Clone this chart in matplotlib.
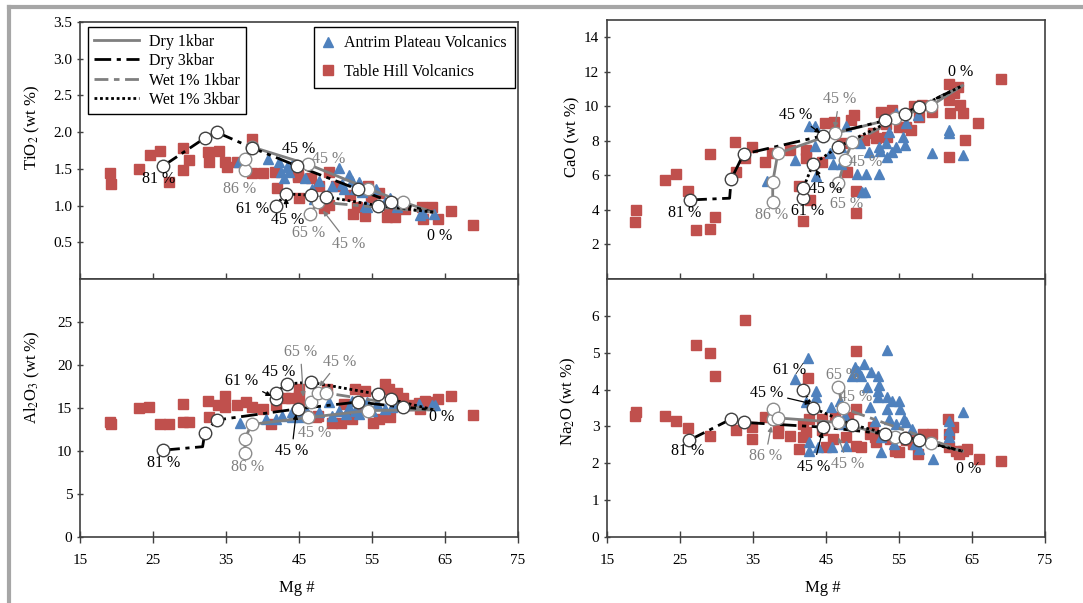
import matplotlib
matplotlib.use("Agg")
import matplotlib.pyplot as plt
from matplotlib.lines import Line2D

plt.rcParams['font.family'] = ['Liberation Serif', 'DejaVu Serif']
plt.rcParams['mathtext.fontset'] = 'stix'

W, H = 1083, 603
RED = '#C0504D'
BLUE = '#4F81BD'
GRAY = '#7F7F7F'
BLACK = '#000000'

# ---- whole-rock data (Mg#, oxide wt %) ----
# TiO2
ti_th_mg = [19.1, 19.3, 23.1, 24.6, 26.0, 27.2, 29.1, 29.1, 29.9, 32.6, 32.7, 34.1, 34.9, 35.1, 36.5,
            38.6, 38.5, 40.1, 41.7, 42.0, 44.8, 44.9, 45.0, 46.7, 47.7, 48.4, 49.1, 49.1, 50.0, 52.0,
            52.4, 52.9, 54.1, 54.5, 54.9, 55.9, 57.0, 57.3, 58.2, 59.5, 61.8, 62.0, 63.2, 64.1, 65.8, 68.9]
ti_th = [1.45, 1.29, 1.50, 1.69, 1.74, 1.32, 1.78, 1.48, 1.62, 1.73, 1.59, 1.75, 1.60, 1.53, 1.59,
         1.91, 1.45, 1.44, 1.46, 1.24, 1.42, 1.39, 1.10, 1.37, 1.26, 0.97, 1.01, 1.46, 1.27, 1.14,
         0.88, 0.98, 0.86, 1.26, 1.11, 1.17, 0.85, 0.89, 0.85, 0.96, 0.98, 0.82, 0.98, 0.82, 0.92, 0.74]
ti_ap_mg = [36.8, 40.8, 42.2, 42.5, 43.0, 43.3, 43.6, 44.1, 45.8, 46.8, 47.0, 47.8, 49.5, 50.5, 50.9,
            51.1, 51.8, 52.3, 52.7, 53.2, 53.6, 54.1, 54.3, 55.5, 56.8, 57.5, 58.4, 61.6, 62.0, 63.5]
ti_ap = [1.59, 1.64, 1.60, 1.46, 1.37, 1.53, 1.46, 1.55, 1.37, 1.23, 1.09, 1.34, 1.27, 1.51, 1.30,
         1.23, 1.41, 1.34, 1.23, 1.32, 1.18, 1.00, 0.98, 1.23, 1.05, 1.10, 0.98, 0.87, 0.90, 0.88]

# CaO
ca_th_mg = [19.0, 18.9, 22.9, 24.4, 26.1, 27.2, 29.1, 29.1, 29.8, 32.6, 32.7, 33.9, 34.9, 36.6, 37.6,
            40.1, 41.3, 41.9, 42.8, 42.2, 42.2, 44.5, 44.9, 46.1, 47.2, 48.4, 48.9, 49.1, 49.1, 47.9,
            50.2, 51.4, 51.8, 52.5, 53.2, 53.4, 54.1, 55.0, 56.0, 56.6, 57.1, 57.8, 58.2, 59.5, 61.8,
            61.8, 62.0, 61.8, 63.1, 63.4, 63.8, 62.6, 65.8, 64.1, 69.0]
ca_th = [3.99, 3.33, 5.71, 6.10, 5.08, 2.82, 7.23, 2.92, 3.60, 7.95, 6.20, 6.98, 7.66, 6.78, 7.27,
         7.50, 5.36, 3.37, 4.58, 7.50, 7.00, 6.78, 9.02, 9.12, 7.85, 9.20, 9.50, 5.12, 3.85, 6.20,
         8.05, 8.44, 8.15, 9.70, 9.00, 8.24, 9.80, 8.83, 8.83, 8.63, 10.0, 9.40, 10.1, 9.70, 11.27,
         10.39, 9.60, 7.07, 11.13, 10.1, 9.60, 10.8, 9.06, 8.05, 11.6]
ca_ap_mg = [36.9, 40.7, 42.7, 43.5, 43.5, 43.6, 45.6, 45.9, 47.0, 47.7, 49.3, 49.6, 50.5, 49.9, 50.4,
            50.9, 52.3, 52.3, 53.2, 53.4, 54.1, 54.6, 54.6, 55.5, 55.8, 56.0, 57.6, 59.5, 61.8, 61.8,
            63.8, 53.6, 52.4, 47.0]
ca_ap = [5.67, 6.90, 8.87, 7.70, 8.87, 5.94, 7.30, 6.68, 6.68, 8.87, 6.10, 7.85, 6.10, 5.02, 5.02,
         7.37, 6.10, 7.66, 7.85, 7.07, 7.37, 7.66, 9.60, 8.24, 7.76, 9.02, 9.50, 7.27, 8.63, 8.44,
         7.17, 8.54, 7.40, 7.66]

# Al2O3
al_th_mg = [19.1, 19.2, 23.1, 24.5, 26.0, 27.2, 29.1, 29.1, 29.9, 32.6, 32.7, 33.9, 34.9, 34.9, 36.5,
            37.7, 38.5, 40.0, 41.1, 41.8, 43.1, 43.9, 45.0, 45.0, 45.0, 45.9, 47.3, 47.6, 48.9, 49.5,
            50.7, 51.1, 52.3, 52.7, 53.4, 54.1, 55.2, 55.9, 56.8, 57.3, 57.5, 58.4, 59.3, 60.5, 61.4,
            62.2, 63.2, 64.1, 65.8, 68.9, 61.6]
al_th = [13.4, 13.1, 15.0, 15.1, 13.1, 13.1, 15.5, 13.4, 13.4, 15.85, 14.0, 15.3, 16.4, 15.1, 15.3,
         15.65, 15.1, 14.9, 13.1, 15.3, 16.2, 16.2, 17.2, 16.4, 15.5, 14.1, 13.9, 14.1, 17.2, 13.3,
         13.3, 15.5, 13.7, 17.2, 14.9, 17.0, 13.3, 13.7, 17.8, 17.2, 13.9, 16.8, 16.2, 15.3, 15.6,
         15.85, 15.65, 16.0, 16.4, 14.2, 14.9]
al_ap_mg = [36.9, 40.5, 41.8, 42.7, 44.1, 45.2, 46.1, 47.7, 49.1, 49.5, 50.5, 51.4, 51.8, 52.3, 52.7,
            53.2, 53.9, 54.3, 55.0, 55.7, 56.8, 57.7, 61.4, 63.2, 63.6, 44.1, 58.6]
al_ap = [13.3, 13.7, 13.7, 14.1, 13.9, 13.9, 14.5, 14.5, 15.65, 14.1, 14.7, 14.3, 15.1, 15.85, 14.7,
         14.3, 14.9, 15.65, 14.7, 15.5, 14.9, 15.1, 15.5, 15.3, 15.3, 14.5, 15.3]

# Na2O
na_th_mg = [19.0, 18.9, 22.9, 24.4, 26.1, 27.2, 29.1, 29.1, 29.8, 32.7, 33.9, 34.9, 34.9, 36.6, 38.4,
            38.4, 40.1, 41.3, 41.9, 42.2, 42.6, 41.9, 42.7, 44.5, 45.0, 46.0, 46.3, 47.7, 48.0, 49.1,
            49.1, 49.1, 49.8, 51.0, 51.7, 51.9, 53.7, 54.4, 55.0, 56.0, 56.4, 56.9, 57.6, 58.3, 58.7,
            59.5, 61.7, 61.9, 62.4, 62.8, 63.2, 63.8, 64.3, 65.9, 69.0, 61.9, 51.4, 44.5]
na_th = [3.38, 3.27, 3.27, 3.14, 2.95, 5.21, 5.00, 2.75, 4.38, 2.89, 5.89, 2.66, 2.98, 3.25, 2.81,
         3.00, 2.75, 2.39, 3.07, 2.84, 4.31, 2.70, 3.20, 3.20, 2.43, 2.66, 3.25, 2.70, 3.25, 5.05,
         3.47, 2.48, 2.43, 2.80, 2.70, 2.57, 2.66, 2.34, 2.30, 2.62, 2.70, 2.53, 2.26, 2.80, 2.70,
         2.80, 3.20, 2.43, 2.98, 2.34, 2.26, 2.34, 2.39, 2.12, 2.07, 2.80, 2.98, 2.89]
na_ap_mg = [40.8, 42.6, 42.2, 42.7, 43.6, 43.6, 42.7, 43.9, 45.7, 45.8, 46.9, 47.6, 47.7, 48.5, 49.0,
            49.4, 49.8, 50.2, 50.6, 51.0, 51.2, 51.7, 52.1, 52.1, 52.1, 52.3, 52.6, 53.3, 53.3, 53.3,
            53.6, 54.1, 54.3, 54.6, 55.0, 55.2, 55.7, 55.9, 56.8, 57.2, 57.8, 59.6, 61.8, 61.8, 61.8,
            63.8, 52.6, 47.3]
na_ap = [4.29, 4.87, 3.65, 2.57, 3.97, 3.79, 2.34, 2.43, 3.52, 2.43, 3.70, 3.29, 2.48, 4.38, 4.60,
         4.51, 4.38, 4.69, 4.06, 3.52, 4.47, 3.16, 4.38, 3.97, 3.79, 4.13, 2.70, 5.07, 3.79, 3.47,
         3.20, 3.70, 2.52, 3.07, 3.70, 3.47, 3.20, 3.11, 2.93, 2.52, 2.39, 2.12, 3.16, 2.89, 2.72,
         3.38, 2.30, 3.07]

# ---- fractional crystallisation models (Mg#, oxide) ----
ti_dry1 = ([37.6, 37.6, 38.5, 46.3, 54.5, 59.2, 63.4], [1.48, 1.64, 1.80, 1.56, 1.23, 1.05, 0.91])
ti_dry3 = ([26.4, 32.1, 33.7, 38.5, 44.7, 53.1, 57.6, 63.4], [1.54, 1.92, 2.00, 1.79, 1.54, 1.22, 1.05, 0.91])
ti_wet1 = ([46.5, 47.6, 63.4], [0.88, 1.05, 0.91])
ti_wet3 = ([41.8, 43.2, 46.7, 48.7, 55.8, 63.4], [1.00, 1.16, 1.14, 1.12, 1.00, 0.91])

ca_dry1 = ([37.7, 37.7, 38.4, 46.2, 54.5, 59.4, 63.7], [4.48, 5.61, 7.27, 8.44, 9.32, 10.04, 11.2])
ca_dry3 = ([26.4, 31.8, 32.0, 33.7, 44.6, 53.1, 57.7, 63.7], [4.58, 4.68, 5.77, 7.23, 8.30, 9.18, 9.96, 11.2])
ca_wet1 = ([46.7, 47.6, 48.6, 63.7], [5.55, 6.92, 7.91, 11.2])
ca_wet3 = ([41.9, 41.9, 43.2, 46.7, 55.8, 63.7], [4.67, 5.28, 6.64, 7.66, 9.55, 11.2])

al_dry1 = ([37.6, 37.6, 38.5, 46.3, 54.5, 63.4], [9.74, 11.45, 13.1, 13.9, 14.7, 14.8])
al_dry3 = ([26.4, 31.8, 32.1, 33.7, 44.8, 53.1, 59.2, 63.4], [10.1, 10.5, 12.15, 13.6, 14.9, 15.7, 15.1, 14.8])
al_wet1 = ([46.6, 47.6, 48.7, 63.4], [15.65, 16.75, 16.75, 14.8])
al_wet3 = ([41.8, 41.8, 43.3, 46.6, 55.8, 57.6, 63.4], [16.1, 16.75, 17.8, 18.0, 16.6, 16.0, 14.8])

na_dry1 = ([37.7, 37.7, 38.4, 46.7, 54.5, 59.4, 63.7], [3.20, 3.47, 3.23, 3.11, 2.70, 2.54, 2.33])
na_dry3 = ([26.3, 32.0, 33.7, 44.6, 53.1, 57.7, 63.7], [2.63, 3.20, 3.11, 2.98, 2.80, 2.64, 2.33])
na_wet1 = ([46.7, 47.3, 63.7], [4.06, 3.50, 2.33])
na_wet3 = ([41.9, 43.2, 48.5, 55.8, 63.7], [3.99, 3.50, 3.05, 2.69, 2.33])

# ---- % crystallised labels: text, x, y, colour, arrow target ----
ti_labels = [('81 %', 25.8, 1.36, BLACK, None), ('86 %', 36.9, 1.23, GRAY, None),
             ('45 %', 45.0, 1.77, BLACK, None), ('45 %', 49.1, 1.64, GRAY, None),
             ('61 %', 38.7, 0.95, BLACK, None), ('45 %', 43.4, 0.81, BLACK, (43.2, 1.10)),
             ('65 %', 46.3, 0.63, GRAY, None), ('45 %', 51.8, 0.48, GRAY, (48.3, 0.93)),
             ('0 %', 64.3, 0.59, BLACK, None)]
ca_labels = [('0 %', 63.4, 12.0, BLACK, None), ('45 %', 46.8, 10.4, GRAY, (46.2, 8.75)),
             ('45 %', 40.8, 9.5, BLACK, (44.2, 8.45)), ('45 %', 50.4, 6.8, GRAY, None),
             ('45 %', 45.0, 5.2, BLACK, (43.6, 6.35)), ('65 %', 47.8, 4.34, GRAY, None),
             ('81 %', 25.7, 3.81, BLACK, None), ('86 %', 37.5, 3.7, GRAY, None),
             ('61 %', 42.5, 3.95, BLACK, None)]
al_labels = [('65 %', 45.2, 21.5, GRAY, (45.6, 16.3)), ('45 %', 50.5, 20.4, GRAY, (47.8, 17.5)),
             ('45 %', 42.2, 19.2, BLACK, None), ('61 %', 37.2, 18.1, BLACK, (41.2, 16.4)),
             ('45 %', 47.2, 12.1, GRAY, None), ('45 %', 44.0, 10.0, BLACK, (44.6, 14.3)),
             ('81 %', 26.4, 8.6, BLACK, None), ('86 %', 38.0, 8.1, GRAY, None),
             ('0 %', 64.5, 13.9, BLACK, None)]
na_labels = [('81 %', 26.1, 2.33, BLACK, None), ('86 %', 36.7, 2.19, GRAY, (37.5, 3.0)),
             ('61 %', 40.0, 4.54, BLACK, None), ('45 %', 36.9, 3.9, BLACK, (42.9, 3.62)),
             ('65 %', 47.3, 4.4, GRAY, None), ('45 %', 49.1, 3.79, GRAY, None),
             ('45 %', 43.3, 1.91, BLACK, (44.5, 2.85)), ('45 %', 48.0, 1.97, GRAY, (46.7, 2.7)),
             ('0 %', 64.5, 1.85, BLACK, None)]

STYLES = {
    'dry1': dict(color=GRAY, ls='-'),
    'dry3': dict(color=BLACK, ls=(0, (6, 2, 1.5, 2))),
    'wet1': dict(color=GRAY, ls=(0, (5, 2, 2, 2))),
    'wet3': dict(color=BLACK, ls=(0, (1, 1))),
}
NAMES = {'dry1': 'Dry 1kbar', 'dry3': 'Dry 3kbar', 'wet1': 'Wet 1% 1kbar', 'wet3': 'Wet 1% 3kbar'}


def rect(x0, y0, x1, y1):
    return [x0 / W, 1 - y1 / H, (x1 - x0) / W, (y1 - y0) / H]


def model(ax, curve, key, bare=()):
    xs, ys = curve
    st = STYLES[key]
    ax.plot(xs, ys, color=st['color'], ls=st['ls'], lw=2, zorder=4)
    keep = [i for i in range(len(xs) - 1) if i not in bare]
    ax.plot([xs[i] for i in keep], [ys[i] for i in keep], ls='none', marker='o', ms=9,
            mfc='white', mec='#404040' if st['color'] == BLACK else '#8C8C8C', mew=1, zorder=5)


def panel(ax, th, ap, curves, labels, ylim, yticks, fmt, bottom):
    ax.plot(th[0], th[1], ls='none', marker='s', ms=7, mfc=RED, mec=RED, zorder=2)
    ax.plot(ap[0], ap[1], ls='none', marker='^', ms=7.5, mfc=BLUE, mec=BLUE, zorder=3)
    for key, curve, bare in curves:
        model(ax, curve, key, bare)
    for txt, x, y, c, tip in labels:
        if tip is None:
            ax.text(x, y, txt, color=c, fontsize=11.5, ha='center', va='center', zorder=6)
        else:
            ax.annotate(txt, xy=tip, xytext=(x, y), color=c, fontsize=11.5, ha='center',
                        va='center', zorder=6,
                        arrowprops=dict(arrowstyle='-|>', color=c, lw=0.9, mutation_scale=7,
                                        shrinkA=1, shrinkB=0))
    ax.set_xlim(15, 75)
    ax.set_ylim(*ylim)
    ax.set_xticks(range(15, 76, 10))
    ax.set_yticks(yticks)
    ax.set_yticklabels([fmt % v for v in yticks])
    ax.tick_params(axis='x', direction='inout', length=9, width=1, color='#404040',
                   labelsize=11, labelbottom=bottom, pad=8)
    ax.tick_params(axis='y', direction='inout', length=5, width=1, color='#404040',
                   labelsize=11, pad=3)
    for s in ax.spines.values():
        s.set_color('#404040')
        s.set_linewidth(1.2)


fig = plt.figure(figsize=(W / 100, H / 100), dpi=100)

ax_ti = fig.add_axes(rect(80, 22, 518, 279))
ax_al = fig.add_axes(rect(80, 279, 518, 537))
ax_ca = fig.add_axes(rect(607, 20, 1045, 279))
ax_na = fig.add_axes(rect(607, 279, 1045, 537))

panel(ax_ti, (ti_th_mg, ti_th), (ti_ap_mg, ti_ap),
      [('dry1', ti_dry1, ()), ('dry3', ti_dry3, ()), ('wet1', ti_wet1, ()), ('wet3', ti_wet3, ())],
      ti_labels, (0, 3.5), [0.5, 1.0, 1.5, 2.0, 2.5, 3.0, 3.5], '%.1f', False)
panel(ax_ca, (ca_th_mg, ca_th), (ca_ap_mg, ca_ap),
      [('dry1', ca_dry1, ()), ('dry3', ca_dry3, (1,)), ('wet1', ca_wet1, ()), ('wet3', ca_wet3, ())],
      ca_labels, (0, 15), [2, 4, 6, 8, 10, 12, 14], '%d', False)
panel(ax_al, (al_th_mg, al_th), (al_ap_mg, al_ap),
      [('dry1', al_dry1, ()), ('dry3', al_dry3, (1,)), ('wet1', al_wet1, ()), ('wet3', al_wet3, ())],
      al_labels, (0, 30), [0, 5, 10, 15, 20, 25], '%d', True)
panel(ax_na, (na_th_mg, na_th), (na_ap_mg, na_ap),
      [('dry1', na_dry1, ()), ('dry3', na_dry3, ()), ('wet1', na_wet1, ()), ('wet3', na_wet3, ())],
      na_labels, (0, 7), [0, 1, 2, 3, 4, 5, 6], '%d', True)

# legends in the TiO2 panel
line_handles = [Line2D([], [], lw=2, **STYLES[k]) for k in ['dry1', 'dry3', 'wet1', 'wet3']]
leg1 = ax_ti.legend(line_handles, [NAMES[k] for k in ['dry1', 'dry3', 'wet1', 'wet3']],
                    loc='upper left', bbox_to_anchor=(0.018, 0.98), borderaxespad=0,
                    fontsize=11.5, handlelength=2.8, labelspacing=0.22, borderpad=0.4,
                    handletextpad=0.6, fancybox=False, edgecolor='black', framealpha=1)
leg1.get_frame().set_linewidth(1)
ax_ti.add_artist(leg1)
pt_handles = [Line2D([], [], ls='none', marker='^', ms=7.5, mfc=BLUE, mec=BLUE),
              Line2D([], [], ls='none', marker='s', ms=7, mfc=RED, mec=RED)]
leg2 = ax_ti.legend(pt_handles, ['Antrim Plateau Volcanics', 'Table Hill Volcanics'],
                    loc='upper right', bbox_to_anchor=(0.993, 0.98), borderaxespad=0,
                    fontsize=11.5, handlelength=0.8, labelspacing=0.8, borderpad=0.5,
                    handletextpad=0.6, fancybox=False, edgecolor='black', framealpha=1)
leg2.get_frame().set_linewidth(1)

# axis titles
fig.text(32 / W, 1 - 128 / H, 'TiO$_2$ (wt %)', rotation=90, ha='center', va='center', fontsize=12)
fig.text(572 / W, 1 - 137 / H, 'CaO (wt %)', rotation=90, ha='center', va='center', fontsize=12)
fig.text(32 / W, 1 - 377 / H, 'Al$_2$O$_3$ (wt %)', rotation=90, ha='center', va='center', fontsize=12)
fig.text(568 / W, 1 - 401 / H, 'Na$_2$O (wt %)', rotation=90, ha='center', va='center', fontsize=12)
fig.text(297 / W, 1 - 588 / H, 'Mg #', ha='center', va='center', fontsize=12)
fig.text(823 / W, 1 - 588 / H, 'Mg #', ha='center', va='center', fontsize=12)

# page frame
fig.add_artist(Line2D([9 / W, 1], [1 - 7 / H, 1 - 7 / H], color='#A6A6A6', lw=3))
fig.add_artist(Line2D([9 / W, 9 / W], [0, 1 - 7 / H], color='#A6A6A6', lw=3))

fig.savefig('out.png', dpi=100)
